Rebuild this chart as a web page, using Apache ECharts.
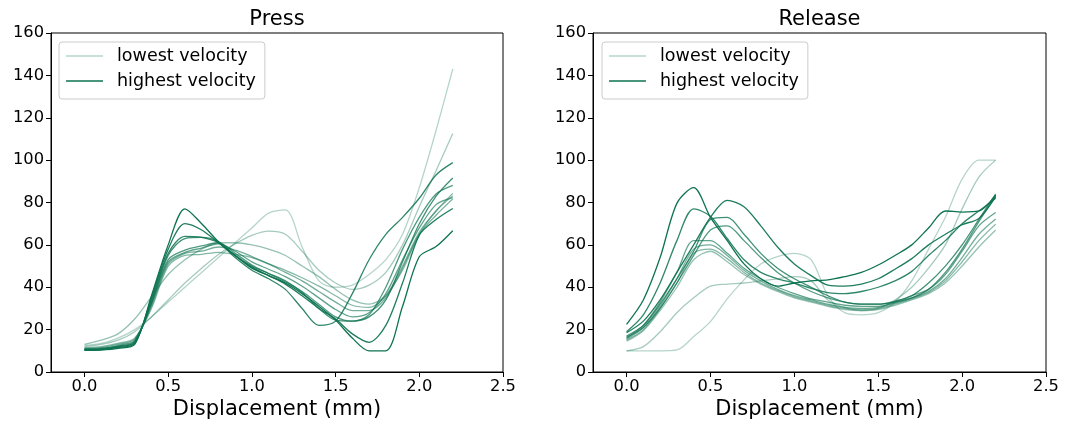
<!DOCTYPE html>
<html>
<head>
<meta charset="utf-8">
<script src="https://cdn.jsdelivr.net/npm/echarts@6/dist/echarts.min.js"></script>
<style>
html,body{margin:0;padding:0;background:#fff;}
#chart{width:1066px;height:426px;}
</style>
</head>
<body>
<div id="chart"></div>
<script>
// Displacement samples (mm)
const xs = [0.0,0.1,0.2,0.3,0.4,0.5,0.6,0.7,0.8,0.9,1.0,1.1,1.2,1.3,1.4,1.5,1.6,1.7,1.8,1.9,2.0,2.1,2.2];
const xTicks = [0, 0.5, 1.0, 1.5, 2.0, 2.5];
const yTicks = [0, 20, 40, 60, 80, 100, 120, 140, 160];
const titles = ['Press', 'Release'];
const legendNames = ['lowest velocity', 'highest velocity'];

// Press curves, lowest velocity first -> highest velocity last
const pressCurves = [
  [12.5,13.5,16,20,26,33,40,47,54,61,68,75,76.5,59,43,40,41,46,53,65,87,114,143],
  [12,13,15,19,26,34,42,49,55.5,60.5,64.5,66.5,65,57,48,42,39,41,47,60,78,95,112.6],
  [13,15,18,25,35.5,46,53,58,61,61,60,58,55,50,45,39,34,32,36,48,65,76,83.2],
  [11.5,12,13.5,16,30,50,55,55.5,56.5,55.5,54,51,48,44.5,40.5,36,31.5,30.5,36,50,66,76,84.3],
  [11,11.5,13,15.5,31,51,56,57,59,57.5,54.5,51,47,43,38,33,29,29,35,49,65,74,81.7],
  [11,11.2,12.5,15,32,52,56.5,58.5,60.5,57,52,48.5,45,40.5,35,29.5,26,28,37,53,68,79,82.3],
  [10.8,11,12.2,14.5,32.5,53,57.5,59.5,61,56,50.5,46.5,42.5,38,32,26,24,27,40,58,73,84,88.1],
  [10.5,10.8,12,14,33,55,63,63.5,61.5,55,50,46.5,43,37.5,30,24.5,24,26,34,52,70,83,91.6],
  [10.5,10.7,11.8,14,34,56,64,63.5,61,54,48,44,39,30,22,24,37,53,65,73,82,93,98.8],
  [10.3,10.5,11.5,13.5,35,58,70,67,61,55,49.5,45.5,41.5,36,30,25,18,14,22,42,64.6,72,77.2],
  [10.2,10.4,11.2,13,36,60,77,70,61.5,55,49,45.5,42,37,31,24.5,16,10,10,31,54.4,59.2,66.7]
];

// Release curves, lowest velocity first -> highest velocity last
const releaseCurves = [
  [10,10,10,10.4,16.7,23.8,34.5,43.5,51,54.5,56,53,36,28,27,28,33,43,58,73,91,100,100],
  [10,12,19,28,35,40.5,41.5,42,43,44,45,43,34,30.5,29,30,34,40,49,60,77,92,100],
  [14.5,19.5,29,40,53,57,52,46,41.5,38,35,33,31,29.5,29,29.5,31.5,34,37,42,50,59,67],
  [15,20,30,42,56,58,53.5,47,42,38.5,35.5,33.5,31.5,30,29.5,30,32,34.5,37.5,43,52,62,69.8],
  [15.5,21,31,44,58,60,55,48,43,39,36,34,32,30.5,30,30.5,32.5,35,38,44,54,65,72.2],
  [16,22,33,47,62,62,56,49,44,40,37,34.5,33,31.5,31,31,33,36,39,46,57,69,75.3],
  [16.5,21,30,42,55,67,69,62,54,47,42,38,35,33,32,32,33,35,39,47,58,71,83],
  [17,22,32,44,57,72,73,65,56,49,44,40,36,33,32,32,33.5,36,42,50,60,72,84],
  [19,27,42,62,77,73.5,63,53,47,44,42,39.5,37.5,37,38,40,43,47.5,55,62,70,76,82],
  [18.5,24,34,47,60,73,81,78,69,59,51,45.5,41,40.5,41.5,44,48.5,53.5,60,65,69.5,72.5,82.8],
  [22.5,34,54,79.6,87,73,62,51,44,40.5,42,43,43.5,45,47,50.5,55,60,68,76,75.5,76,83.6]
];

const FONT = 'DejaVu Sans';
const grids = [
  {left: 51, top: 33, width: 452, height: 339},
  {left: 593, top: 33, width: 453, height: 339}
];
const legendPos = [59, 602];

function colorFor(i, n) {
  const a = 0.3 + 0.7 * i / (n - 1);
  return 'rgba(13,115,80,' + a.toFixed(3) + ')';
}

const series = [];
[pressCurves, releaseCurves].forEach(function (curves, g) {
  curves.forEach(function (c, i) {
    let name = 'velocity ' + (i + 1);
    if (i === 0) name = legendNames[0];
    if (i === curves.length - 1) name = legendNames[1];
    series.push({
      type: 'line',
      name: name,
      xAxisIndex: g,
      yAxisIndex: g,
      symbol: 'none',
      smooth: 0.3,
      data: xs.map(function (x, j) { return [x, c[j]]; }),
      lineStyle: {color: colorFor(i, curves.length), width: 1.3},
      itemStyle: {color: colorFor(i, curves.length)},
      silent: true,
      z: 2 + i
    });
  });
});

const axisCommon = {
  axisLine: {show: true, onZero: false, lineStyle: {color: '#000', width: 1}},
  axisTick: {show: true, inside: false, length: 5, lineStyle: {color: '#000', width: 1}},
  splitLine: {show: false}
};

const option = {
  animation: false,
  backgroundColor: '#fff',
  title: titles.map(function (t, g) {
    return {
      text: t, left: grids[g].left + grids[g].width / 2, top: 9.5,
      textAlign: 'center', padding: 0,
      textStyle: {fontFamily: FONT, fontSize: 21, fontWeight: 'normal', color: '#000'}
    };
  }),
  grid: grids.map(function (gr) {
    return Object.assign({show: true, borderColor: '#000', borderWidth: 1, backgroundColor: 'transparent', containLabel: false, outerBoundsMode: 'none'}, gr);
  }),
  legend: legendPos.map(function (lx) {
    return {
      data: legendNames.map(function (n) { return {name: n, icon: 'rect'}; }),
      left: lx, top: 42, orient: 'vertical',
      itemWidth: 37, itemHeight: 1.6, itemGap: 5,
      padding: [4, 9, 8, 7],
      backgroundColor: 'rgba(255,255,255,0.8)',
      borderColor: '#cccccc', borderWidth: 1, borderRadius: 3,
      selectedMode: false,
      textStyle: {fontFamily: FONT, fontSize: 17.5, color: '#000', lineHeight: 20, padding: [0, 0, 0, 9]}
    };
  }),
  xAxis: grids.map(function (gr, g) {
    return Object.assign({}, axisCommon, {
      type: 'value', gridIndex: g, min: -0.2, max: 2.5,
      name: 'Displacement (mm)', nameLocation: 'middle', nameGap: 26,
      nameTextStyle: {fontFamily: FONT, fontSize: 21, color: '#000'},
      axisTick: Object.assign({}, axisCommon.axisTick, {customValues: xTicks}),
      axisLabel: {customValues: xTicks, fontFamily: FONT, fontSize: 16.3, color: '#000', margin: 6.5,
        formatter: function (v) { return v.toFixed(1); }}
    });
  }),
  yAxis: grids.map(function (gr, g) {
    return Object.assign({}, axisCommon, {
      type: 'value', gridIndex: g, min: yTicks[0], max: yTicks[yTicks.length - 1], interval: 20,
      axisLabel: {fontFamily: FONT, fontSize: 16.3, color: '#000', margin: 7}
    });
  }),
  series: series
};

const chart = echarts.init(document.getElementById('chart'), null, {renderer: 'canvas'});
chart.setOption(option);
</script>
</body>
</html>
